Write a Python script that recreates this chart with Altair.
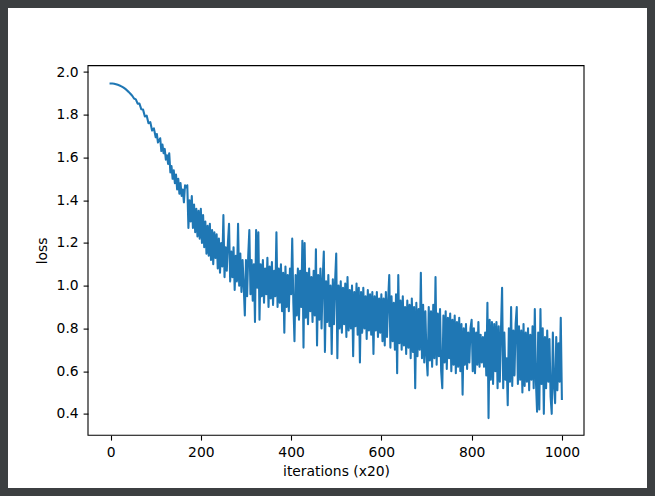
import altair as alt
import pandas as pd

loss_000 = [1.946, 1.946, 1.945, 1.943, 1.940, 1.937, 1.933, 1.928, 1.922, 1.915,
            1.907, 1.898, 1.889, 1.876, 1.872, 1.852, 1.852, 1.826, 1.824, 1.792,
            1.796, 1.760, 1.766, 1.726, 1.736]
loss_100 = [1.695, 1.71, 1.67, 1.68, 1.69, 1.63, 1.66, 1.62, 1.64, 1.59,
            1.61, 1.57, 1.62, 1.53, 1.56, 1.50, 1.54, 1.48, 1.52, 1.45,
            1.50, 1.43, 1.48, 1.42, 1.45, 1.39, 1.47, 1.46, 1.47, 1.27,
            1.40, 1.30, 1.42, 1.27, 1.38, 1.25, 1.36, 1.23, 1.35, 1.22]
loss_200 = [1.36, 1.20, 1.33, 1.18, 1.30, 1.15, 1.28, 1.14, 1.29, 1.12,
            1.26, 1.10, 1.25, 1.13, 1.24, 1.08, 1.22, 1.06, 1.20, 1.09,
            1.33, 1.04, 1.18, 1.07, 1.20, 1.29, 1.02, 1.16, 1.04, 1.18,
            0.98, 1.14, 1.02, 1.29, 1.00, 1.15, 0.97, 1.12, 1.00, 0.86]
loss_300 = [1.12, 0.95, 1.14, 1.26, 0.96, 1.12, 0.93, 1.10, 0.83, 1.26,
            0.99, 1.25, 0.84, 1.10, 0.95, 1.12, 0.92, 1.08, 0.96, 1.13,
            0.90, 1.09, 0.94, 1.11, 0.91, 1.07, 0.95, 1.25, 0.90, 1.08,
            0.92, 1.10, 0.88, 1.06, 0.78, 1.09, 0.90, 1.05, 0.88, 1.08]
loss_400 = [0.96, 1.22, 0.92, 0.74, 1.05, 0.86, 1.08, 0.84, 1.07, 0.90,
            1.21, 0.71, 1.20, 0.85, 1.06, 0.82, 1.08, 0.88, 1.04, 0.83,
            1.07, 0.86, 1.17, 0.72, 1.05, 0.84, 1.08, 0.80, 1.03, 1.16,
            0.69, 1.02, 0.83, 1.05, 0.81, 1.00, 0.68, 1.03, 0.82, 1.02]
loss_500 = [1.15, 0.66, 1.00, 0.80, 1.02, 0.78, 0.99, 0.82, 1.01, 0.76,
            1.04, 0.79, 0.98, 0.80, 1.00, 0.67, 0.97, 0.81, 1.01, 0.77,
            0.99, 0.64, 0.97, 0.78, 0.99, 0.80, 0.95, 0.75, 0.98, 0.79,
            0.96, 0.77, 0.97, 0.68, 0.95, 0.79, 0.97, 0.76, 0.94, 0.78]
loss_600 = [0.96, 0.74, 0.94, 0.72, 0.97, 0.76, 0.93, 1.05, 0.71, 0.95,
            0.74, 0.92, 0.70, 0.96, 0.59, 1.05, 0.73, 0.93, 0.70, 0.95,
            0.72, 0.90, 0.68, 0.93, 0.71, 0.91, 0.66, 0.94, 0.69, 0.90,
            0.52, 0.92, 0.67, 0.89, 0.70, 1.06, 0.66, 0.91, 0.64, 0.88]
loss_700 = [0.67, 0.58, 0.90, 0.65, 0.88, 0.62, 0.91, 0.66, 1.04, 0.63,
            0.87, 0.67, 0.89, 0.60, 0.52, 0.86, 0.64, 0.88, 0.61, 0.85,
            0.66, 0.87, 0.60, 0.84, 0.63, 0.86, 0.59, 0.83, 0.62, 0.85,
            0.60, 0.82, 0.49, 0.80, 0.63, 0.82, 0.61, 0.78, 0.64, 0.80]
loss_800 = [0.84, 0.60, 0.80, 0.59, 0.78, 0.63, 0.83, 0.62, 0.77, 0.64,
            0.76, 0.62, 0.78, 0.58, 0.92, 0.38, 0.84, 0.56, 0.83, 0.54,
            0.82, 0.60, 0.83, 0.52, 0.81, 0.55, 0.79, 0.99, 0.52, 0.78,
            0.56, 0.66, 0.44, 0.80, 0.55, 0.90, 0.53, 0.79, 0.58, 0.82]
loss_900 = [0.90, 0.54, 0.81, 0.56, 0.79, 0.50, 0.82, 0.53, 0.78, 0.55,
            0.80, 0.51, 0.77, 0.56, 0.81, 0.52, 0.89, 0.55, 0.41, 0.78,
            0.42, 0.89, 0.54, 0.80, 0.40, 0.76, 0.52, 0.79, 0.55, 0.75,
            0.48, 0.40, 0.78, 0.53, 0.45, 0.76, 0.51, 0.73, 0.55, 0.85,
            0.47]

x_ticks = [0, 200, 400, 600, 800, 1000]
y_ticks = [0.4, 0.6, 0.8, 1.0, 1.2, 1.4, 1.6, 1.8, 2.0]
x_title = "iterations (x20)"
y_title = "loss"

# ---- assemble table ----
iters = [4 * k for k in range(len(loss_000))]
losses = list(loss_000)
chunks = [loss_100, loss_200, loss_300, loss_400, loss_500,
          loss_600, loss_700, loss_800, loss_900]
for start, vals in zip(range(100, 1000, 100), chunks):
    iters += [start + 2.5 * k for k in range(len(vals))]
    losses += vals
df = pd.DataFrame({"iter": iters, "loss": losses})

W, H = 496, 369.6
FONT = "DejaVu Sans"
FS = 13.89

line = alt.Chart(df).mark_line(
    color="#1f77b4", strokeWidth=2.08, strokeJoin="round", strokeCap="square"
).encode(
    x=alt.X("iter:Q",
            scale=alt.Scale(domain=[-50, 1049], nice=False, zero=False),
            axis=alt.Axis(values=x_ticks, title=x_title, format="d",
                          titlePadding=6)),
    y=alt.Y("loss:Q",
            scale=alt.Scale(domain=[0.30, 2.03], nice=False, zero=False),
            axis=alt.Axis(values=y_ticks, title=y_title, format=".1f",
                          titlePadding=7)),
)

frame = alt.Chart(alt.Data(values=[{"k": 0}])).mark_rect(
    fillOpacity=0, stroke="black", strokeWidth=1.1, clip=False
).encode(
    x=alt.value(0), x2=alt.value(W), y=alt.value(0), y2=alt.value(H)
)

# dark window border around the white figure
border = alt.Chart(alt.Data(values=[{"k": 0}])).mark_rect(
    fillOpacity=0, stroke="#3c3f41", strokeWidth=16, clip=False
).encode(
    x=alt.value(-88), x2=alt.value(567), y=alt.value(-65.6), y2=alt.value(430.4)
)

chart = alt.layer(line, frame, border).properties(
    width=W, height=H,
    background="white",
    autosize=alt.AutoSizeParams(type="none"),
    padding={"left": 88, "top": 65.6, "right": 71, "bottom": 60.8},
).configure_view(
    stroke=None, fill="white"
).configure_axis(
    grid=False, domain=False,
    tickColor="black", tickWidth=1.1, tickSize=4.9,
    labelFont=FONT, labelFontSize=FS, labelColor="black", labelPadding=4.9,
    titleFont=FONT, titleFontSize=FS, titleColor="black",
    titleFontWeight="normal",
)

chart.save("out.html", embed_options={"renderer": "svg", "actions": False})
